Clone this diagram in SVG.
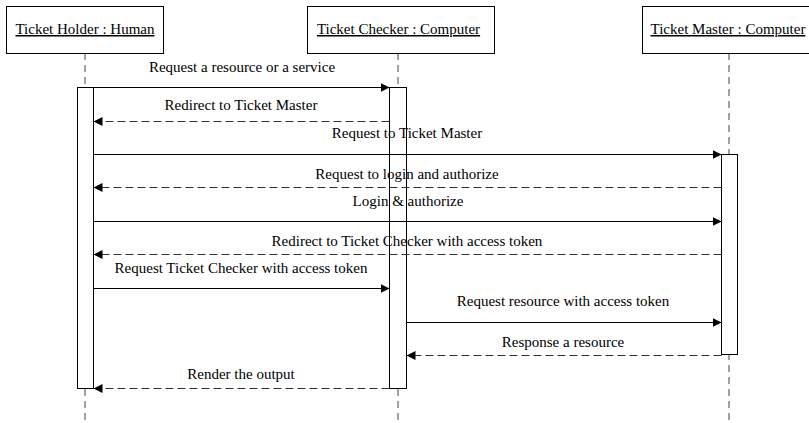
<svg xmlns="http://www.w3.org/2000/svg" width="809" height="423" viewBox="0 0 809 423">
  <defs>
    <marker id="arrow" viewBox="0 0 10 10" refX="10" refY="5" markerWidth="9" markerHeight="10" markerUnits="userSpaceOnUse" orient="auto">
      <path d="M0,0 L10,5 L0,10 Z" fill="#000"/>
    </marker>
    <style>
      .head { fill: #fff; stroke: #000; stroke-width: 1; }
      .life { stroke: #444; stroke-width: 1; stroke-dasharray: 7 5; fill: none; }
      .act { fill: #fff; stroke: #000; stroke-width: 1; }
      .call { stroke: #000; stroke-width: 1; fill: none; marker-end: url(#arrow); }
      .reply { stroke: #333; stroke-width: 1; stroke-dasharray: 8 4; fill: none; marker-end: url(#arrow); }
      text { font-family: "Liberation Serif", "Times New Roman", serif; font-size: 15px; fill: #000; text-anchor: middle; }
      .title { text-decoration: underline; }
    </style>
  </defs>

  <rect width="809" height="423" fill="#fff"/>

  <!-- Lifelines -->
  <g id="lifelines">
    <line class="life" x1="85" y1="53" x2="85" y2="423"/>
    <line class="life" x1="398" y1="53" x2="398" y2="423"/>
    <line class="life" x1="729" y1="53" x2="729" y2="423"/>
  </g>

  <!-- Participants -->
  <g id="ticket-holder">
    <rect class="head" x="6.5" y="6.5" width="157" height="47"/>
    <text class="title" x="85" y="34">Ticket Holder : Human</text>
    <rect class="act" x="77.5" y="87.5" width="16" height="301"/>
  </g>
  <g id="ticket-checker">
    <rect class="head" x="307.5" y="6.5" width="187" height="47"/>
    <text class="title" x="398.5" y="34">Ticket Checker : Computer</text>
    <rect class="act" x="389.5" y="87.5" width="17" height="301"/>
  </g>
  <g id="ticket-master">
    <rect class="head" x="642.5" y="6.5" width="170" height="47"/>
    <text class="title" x="728" y="34">Ticket Master : Computer</text>
    <rect class="act" x="721.5" y="154.5" width="16" height="200"/>
  </g>

  <!-- Messages -->
  <g id="connectors">
    <line class="call" x1="93.5" y1="87.5" x2="389.5" y2="87.5"/>
    <text x="242" y="72">Request a resource or a service</text>

    <line class="reply" x1="389.5" y1="121.5" x2="93.5" y2="121.5"/>
    <text x="241" y="110">Redirect to Ticket Master</text>

    <line class="call" x1="93.5" y1="154.5" x2="721.5" y2="154.5"/>
    <text x="407" y="138">Request to Ticket Master</text>

    <line class="reply" x1="721.5" y1="187.5" x2="93.5" y2="187.5"/>
    <text x="407" y="179">Request to login and authorize</text>

    <line class="call" x1="93.5" y1="221.5" x2="721.5" y2="221.5"/>
    <text x="408" y="206">Login &amp; authorize</text>

    <line class="reply" x1="721.5" y1="254.5" x2="93.5" y2="254.5"/>
    <text x="407" y="246">Redirect to Ticket Checker with access token</text>

    <line class="call" x1="93.5" y1="288.5" x2="389.5" y2="288.5"/>
    <text x="241" y="273">Request Ticket Checker with access token</text>

    <line class="call" x1="406.5" y1="322.5" x2="721.5" y2="322.5"/>
    <text x="563" y="306">Request resource with access token</text>

    <line class="reply" x1="721.5" y1="355.5" x2="406.5" y2="355.5"/>
    <text x="563" y="347">Response a resource</text>

    <line class="reply" x1="389.5" y1="388.5" x2="93.5" y2="388.5"/>
    <text x="241" y="379">Render the output</text>
  </g>
</svg>
